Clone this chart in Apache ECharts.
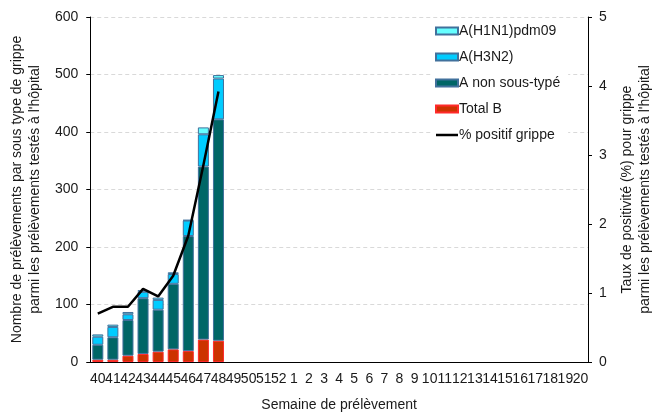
<!DOCTYPE html>
<html lang="fr">
<head>
    <meta charset="UTF-8">
    <title>Grippe - prélèvements hôpital</title>
    <script src="https://cdn.jsdelivr.net/npm/echarts@6/dist/echarts.min.js"></script>
    <style>
        html, body { margin: 0; padding: 0; background: #fff; }
    </style>
</head>
<body>
<div id="main" style="width: 662px;height:417px;"></div>

<script type="text/javascript">
    // semaines 40 -> 52 puis 1 -> 20
    var semaines = ['40','41','42','43','44','45','46','47','48','49','50','51','52',
        '1','2','3','4','5','6','7','8','9','10','11','12','13','14','15','16','17','18','19','20'];

    var totalB    = [4, 4, 11, 14, 18, 22, 19, 39, 37];
    var aNonType  = [26, 39, 62, 97, 73, 114, 200, 301, 385];
    var aH3N2     = [14, 18, 10, 11, 17, 17, 27, 56, 71];
    var aH1N1     = [4, 4, 4, 3, 4, 3, 1, 12, 6];
    var pctPositif = [0.70, 0.80, 0.80, 1.06, 0.95, 1.25, 1.83, 2.85, 3.92];

    var yGaucheTicks = { min: 0, max: 600, interval: 100 };
    var yDroiteTicks = { min: 0, max: 5, interval: 1 };

    var police = 'Liberation Sans, Arial, sans-serif';
    var txt = '#1a1a1a';
    var bord = '#41719C';

    var myChart = echarts.init(document.getElementById('main'));

    function barre(nom, data, couleur, bordure) {
        return {
            name: nom,
            type: 'bar',
            stack: 'total',
            barCategoryGap: '27%',
            data: data,
            itemStyle: { color: couleur, borderColor: bordure, borderWidth: 1 }
        };
    }

    myChart.setOption({
        animation: false,
        textStyle: { fontFamily: police },
        grid: { left: 85, right: 56, top: 17, bottom: 49 },
        legend: {
            orient: 'vertical',
            left: 431,
            top: 20,
            itemWidth: 22,
            itemHeight: 7,
            itemGap: 12,
            backgroundColor: '#fff',
            padding: [4, 8, 4, 4],
            textStyle: { fontSize: 14, color: txt, fontFamily: police, padding: [0, 0, 0, -4] },
            data: [
                { name: 'A(H1N1)pdm09', icon: 'rect' },
                { name: 'A(H3N2)', icon: 'rect' },
                { name: 'A non sous-typé', icon: 'rect' },
                { name: 'Total B', icon: 'rect' },
                { name: '% positif grippe', icon: 'path://M0,0 L22,0 L22,2.5 L0,2.5 Z' }
            ]
        },
        xAxis: {
            type: 'category',
            data: semaines,
            name: 'Semaine de prélèvement',
            nameLocation: 'middle',
            nameGap: 36,
            nameTextStyle: { fontSize: 14, color: txt },
            axisLine: { lineStyle: { color: '#000', width: 1 } },
            axisTick: { show: false },
            axisLabel: { interval: 0, fontSize: 14, color: txt, margin: 10 }
        },
        yAxis: [
            {
                type: 'value',
                min: yGaucheTicks.min,
                max: yGaucheTicks.max,
                interval: yGaucheTicks.interval,
                name: 'Nombre de prélèvements par sous type de grippe\nparmi les prélèvements testés à l\'hôpital',
                nameLocation: 'middle',
                nameGap: 44,
                nameTextStyle: { fontSize: 14, color: txt, lineHeight: 18 },
                axisLine: { show: true, lineStyle: { color: '#000' } },
                axisTick: { show: true, length: 4, lineStyle: { color: '#000' } },
                axisLabel: { fontSize: 14, color: txt, margin: 12 },
                splitLine: { lineStyle: { color: '#d9d9d9', type: [4, 3] } }
            },
            {
                type: 'value',
                min: yDroiteTicks.min,
                max: yDroiteTicks.max,
                interval: yDroiteTicks.interval,
                name: 'Taux de positivité (%) pour grippe\nparmi les prélèvements testés à l\'hôpital',
                nameLocation: 'middle',
                nameGap: 30,
                nameRotate: 90,
                nameTextStyle: { fontSize: 14, color: txt, lineHeight: 18 },
                axisLine: { show: true, lineStyle: { color: '#000' } },
                axisTick: { show: true, length: 4, lineStyle: { color: '#000' } },
                axisLabel: { fontSize: 14, color: txt, margin: 11 },
                splitLine: { show: false }
            }
        ],
        series: [
            barre('Total B', totalB, '#CC3300', '#FF2A2A'),
            barre('A non sous-typé', aNonType, '#006666', bord),
            barre('A(H3N2)', aH3N2, '#00CCFF', bord),
            barre('A(H1N1)pdm09', aH1N1, '#66FFFF', bord),
            {
                name: '% positif grippe',
                type: 'line',
                yAxisIndex: 1,
                data: pctPositif,
                symbol: 'none',
                lineStyle: { color: '#000', width: 2.5 },
                itemStyle: { color: '#000' }
            }
        ]
    });
</script>
</body>
</html>
